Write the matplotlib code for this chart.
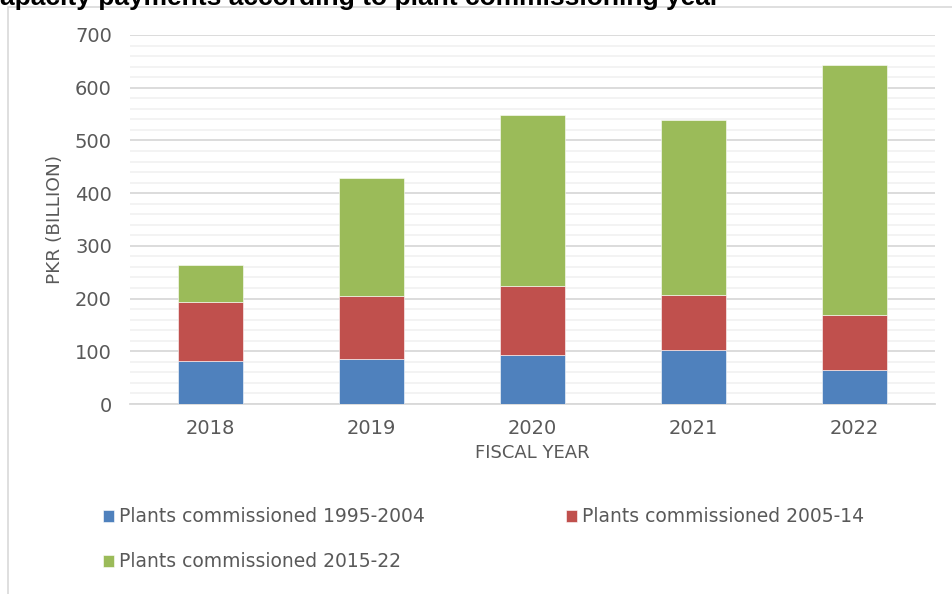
import matplotlib
matplotlib.use("Agg")
import matplotlib.pyplot as plt
from matplotlib.patches import Rectangle
import numpy as np

years = ["2018", "2019", "2020", "2021", "2022"]
s_1995_2004 = [81, 85, 93, 102, 65]
s_2005_14 = [113, 120, 131, 105, 104]
s_2015_22 = [69, 224, 324, 332, 474]
series_names = ["Plants commissioned 1995-2004", "Plants commissioned 2005-14", "Plants commissioned 2015-22"]
colors = ["#4F81BD", "#C0504D", "#9BBB59"]
title = "Capacity payments according to plant commissioning year"

W, H = 953, 594
fig = plt.figure(figsize=(W / 100, H / 100), dpi=100)

ax = fig.add_axes([130 / W, 1 - 404 / H, (935 - 130) / W, (404 - 35) / H])
x = np.arange(len(years))
bottom = np.zeros(len(years))
handles = []
for vals, c, name in zip([s_1995_2004, s_2005_14, s_2015_22], colors, series_names):
    b = ax.bar(x, vals, width=0.40, bottom=bottom, color=c, edgecolor="white", linewidth=0.4, label=name, zorder=3)
    handles.append(b)
    bottom += np.array(vals)

ax.set_xlim(-0.5, len(years) - 0.5)
ax.set_ylim(0, 700)
ax.set_yticks(np.arange(0, 701, 100))
ax.set_yticks(np.arange(0, 701, 20), minor=True)
ax.grid(axis="y", which="major", color="#D9D9D9", linewidth=1.3, zorder=0)
ax.grid(axis="y", which="minor", color="#F2F2F2", linewidth=1.3, zorder=0)
ax.set_axisbelow(True)
for s in ["left", "right", "top"]:
    ax.spines[s].set_visible(False)
ax.spines["bottom"].set_color("#D9D9D9")
ax.spines["bottom"].set_linewidth(1.3)
ax.tick_params(axis="both", which="both", length=0, labelsize=14, labelcolor="#595959")
ax.tick_params(axis="y", pad=13)
ax.tick_params(axis="x", pad=11)
ax.set_xticks(x)
ax.set_xticklabels(years)
ax.set_xlabel("FISCAL YEAR", fontsize=13, color="#595959", labelpad=4)
ax.set_ylabel("PKR (BILLION)", fontsize=13.3, color="#595959", labelpad=8)

order = [0, 2, 1]
leg = fig.legend(handles=[handles[i] for i in order], labels=[series_names[i] for i in order],
                 ncol=2, loc="upper left",
                 bbox_to_anchor=(86 / W, 1 - 490.5 / H), frameon=False,
                 handlelength=0.59, handleheight=0.59, handletextpad=0.27,
                 columnspacing=7.5, labelspacing=1.39,
                 prop={"family": "DejaVu Sans", "size": 13.5})
for t in leg.get_texts():
    t.set_color("#595959")

# chart area border
fig.patches.append(Rectangle((8 / W, -0.1), 1.2, 1 - 7 / H + 0.1, transform=fig.transFigure,
                             fill=False, edgecolor="#D9D9D9", linewidth=1.2))

fig.text(-19 / W, 1 - 5 / H, title, ha="left", va="baseline", fontsize=19,
         fontweight="bold", family=["Liberation Sans", "DejaVu Sans"], color="black")

fig.savefig("out.png", dpi=100)
